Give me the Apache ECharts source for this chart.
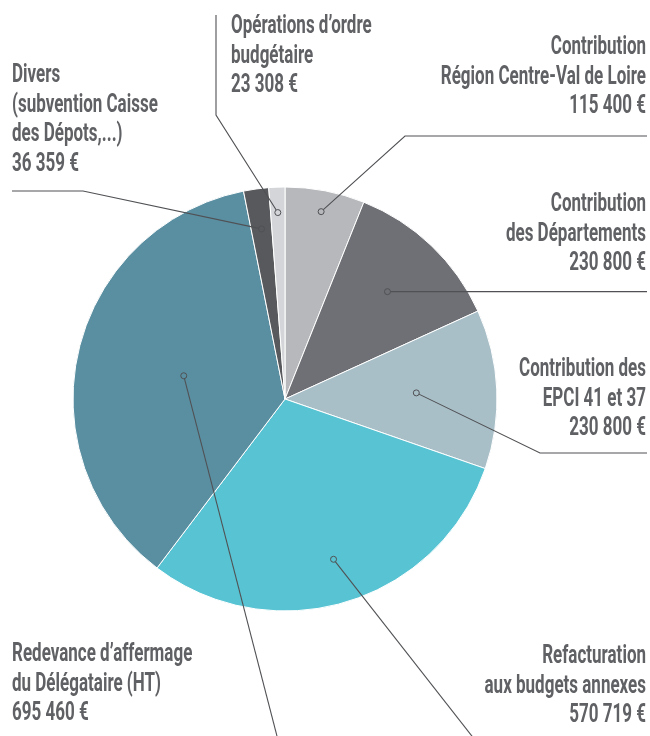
<!DOCTYPE html>
<html>
<head>
<meta charset="utf-8">
<script src="https://cdn.jsdelivr.net/npm/echarts@6/dist/echarts.min.js"></script>
<style>
  html, body { margin: 0; padding: 0; background: #fff; }
  #main { width: 650px; height: 736px; }
</style>
</head>
<body>
<div id="main"></div>
<script>
  // postes de recettes, sens horaire à partir de midi
  var names = [
    'Contribution\nRégion Centre-Val de Loire',
    'Contribution\ndes Départements',
    'Contribution des\nEPCI 41 et 37',
    'Refacturation\naux budgets annexes',
    'Redevance d’affermage\ndu Délégataire (HT)',
    'Divers\n(subvention Caisse\ndes Dépots,...)',
    'Opérations d’ordre\nbudgétaire'
  ];
  var values = [115400, 230800, 230800, 570719, 695460, 36359, 23308];
  var colors = ['#b6b8bb', '#6f7075', '#a9bfc8', '#58c4d3', '#5a8fa2', '#58595c', '#d3d5d8'];

  // placement des étiquettes : [x, y (haut du bloc), alignement]
  var labelPos = [
    [646, 33, 'right'],
    [646, 190, 'right'],
    [646, 355, 'right'],
    [646, 642, 'right'],
    [12, 640, 'left'],
    [12, 61, 'left'],
    [231, 12, 'left']
  ];
  // filets : points après le repère dans la part
  var leaderPaths = [
    [[405, 136], [647, 136]],
    [[647, null]],
    [[540, 453], [647, 453]],
    [[475, 740]],
    [[278, 740]],
    [[83, 191], [12, 191]],
    [[216, 115], [216, 15]]
  ];
  var dotRatio = [0.9, 0.7, 0.62, 0.79, 0.49, 0.81, 0.88];

  var TEXT = '#606164';
  var LINE = '#505154';

  function euros(v) {
    return String(v).replace(/\B(?=(\d{3})+(?!\d))/g, ' ') + ' €';
  }

  var chart = echarts.init(document.getElementById('main'));
  chart.setOption({
    animation: false,
    series: [{
      type: 'pie',
      center: [285, 399],
      radius: 212,
      startAngle: 90,
      clockwise: true,
      silent: true,
      label: { show: false },
      labelLine: { show: false },
      itemStyle: { borderColor: '#ffffff', borderWidth: 1 },
      data: names.map(function (n, i) {
        return { name: n, value: values[i], itemStyle: { color: colors[i] } };
      })
    }]
  });

  var data = chart.getModel().getSeriesByIndex(0).getData();
  var elements = [];
  names.forEach(function (n, i) {
    var lay = data.getItemLayout(i);
    var mid = (lay.startAngle + lay.endAngle) / 2;
    var r = lay.r * dotRatio[i];
    var dot = [lay.cx + r * Math.cos(mid), lay.cy + r * Math.sin(mid)];
    var pts = [dot].concat(leaderPaths[i].map(function (p) {
      return [p[0], p[1] == null ? dot[1] : p[1]];
    }));
    elements.push({
      type: 'polyline', z: 100, silent: true,
      shape: { points: pts },
      style: { stroke: LINE, lineWidth: 1.1, fill: null }
    });
    elements.push({
      type: 'circle', z: 101, silent: true,
      shape: { cx: dot[0], cy: dot[1], r: 3 },
      style: { stroke: LINE, lineWidth: 1, fill: colors[i] }
    });
    var p = labelPos[i];
    elements.push({
      type: 'text', z: 100, silent: true,
      x: p[0], y: p[1], scaleX: 0.68,
      style: {
        text: n + '\n' + euros(values[i]),
        fill: TEXT,
        fontFamily: 'Roboto',
        fontWeight: 'bold',
        fontSize: 25,
        lineHeight: 29.5,
        align: p[2],
        verticalAlign: 'top'
      }
    });
  });
  chart.setOption({ graphic: { elements: elements } });
</script>
</body>
</html>
